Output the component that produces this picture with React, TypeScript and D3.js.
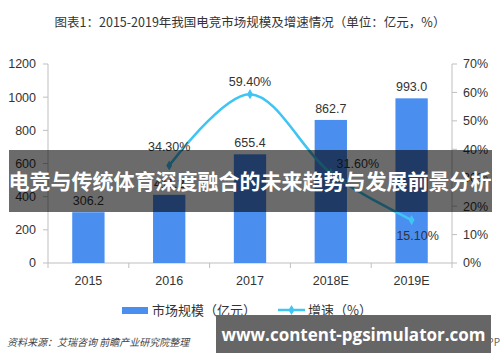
import React from 'react';
import * as d3 from 'd3';

const years = ['2015', '2016', '2017', '2018E', '2019E'];
const marketSize = [306.2, 411.2, 655.4, 862.7, 993.0];
const growth = [null, 34.3, 59.4, 31.6, 15.1];
const leftTicks = [0, 200, 400, 600, 800, 1000, 1200];
const rightTicks = [0, 10, 20, 30, 40, 50, 60, 70];
// label nudges for the growth labels (dx, dy from the point)
const growthLabelShift = [[0, 0], [0, -14], [0, -8], [27, -5], [6, 20]];

const W = 500;
const H = 362;
const left = 48;
const right = 452;
const top = 64;
const bottom = 263;
const numFont = '"Liberation Sans", Arial, sans-serif';
const cjkFont = '"Noto Sans CJK SC", sans-serif';

const App = () => {
  const x = d3.scaleBand().domain(years).range([left, right]).paddingInner(0.6).paddingOuter(0.3);
  const step = x.step();
  const yL = d3.scaleLinear().domain([0, 1200]).range([bottom, top]);
  const yR = d3.scaleLinear().domain([0, 70]).range([bottom, top]);
  const cx = (d: string) => (x(d) as number) + x.bandwidth() / 2;

  const pts = years
    .map((d, i) => ({ d, v: growth[i], i }))
    .filter(p => p.v !== null) as { d: string; v: number; i: number }[];
  const line = d3.line<{ d: string; v: number }>()
    .x(p => cx(p.d))
    .y(p => yR(p.v))
    .curve(d3.curveCatmullRom.alpha(0.5));
  const diamond = d3.symbol().type(d3.symbolDiamond).size(30)();

  const blue = '#4a8ef0';
  const cyan = '#3ec5f3';
  const axisCol = '#bfbfbf';

  return (
    <svg width={W} height={H} style={{ position: 'absolute', left: 0, top: 0, background: '#fff' }}>
      <text x={W / 2} y={27} textAnchor="middle" fontFamily={cjkFont} fontSize={12.5} fill="#333">
        图表1：2015-2019年我国电竞市场规模及增速情况（单位：亿元，%）
      </text>

      {/* axes */}
      <line x1={left} x2={left} y1={top} y2={bottom} stroke={axisCol} />
      <line x1={right} x2={right} y1={top} y2={bottom} stroke={axisCol} />
      <line x1={left} x2={right} y1={bottom} y2={bottom} stroke={axisCol} />
      {leftTicks.map(t => (
        <g key={'l' + t}>
          <line x1={left - 5} x2={left} y1={yL(t)} y2={yL(t)} stroke={axisCol} />
          <text x={36} y={yL(t)} dy="0.35em" textAnchor="end" fontFamily={numFont} fontSize={12.5} fill="#333">{t}</text>
        </g>
      ))}
      {rightTicks.map(t => (
        <g key={'r' + t}>
          <line x1={right} x2={right + 5} y1={yR(t)} y2={yR(t)} stroke={axisCol} />
          <text x={463} y={yR(t)} dy="0.35em" textAnchor="start" fontFamily={numFont} fontSize={12.5} fill="#333">{t}%</text>
        </g>
      ))}
      {d3.range(years.length + 1).map(i => (
        <line key={'t' + i} x1={left + i * step} x2={left + i * step} y1={bottom} y2={bottom + 5} stroke={axisCol} />
      ))}
      {years.map(d => (
        <text key={'x' + d} x={cx(d)} y={285} textAnchor="middle" fontFamily={numFont} fontSize={12.5} fill="#333">{d}</text>
      ))}

      {/* bars */}
      {years.map((d, i) => (
        <g key={'b' + d}>
          <rect x={x(d)} y={yL(marketSize[i])} width={x.bandwidth()} height={bottom - yL(marketSize[i])} fill={blue} />
          <text x={cx(d)} y={yL(marketSize[i]) - 7} textAnchor="middle" fontFamily={numFont} fontSize={12.5} fill="#333">
            {marketSize[i].toFixed(1)}
          </text>
        </g>
      ))}

      {/* growth line */}
      <path d={line(pts) || ''} fill="none" stroke={cyan} strokeWidth={2.5} />
      {pts.map(p => (
        <g key={'p' + p.d}>
          <path d={diamond} transform={`translate(${cx(p.d)},${yR(p.v)})`} fill={cyan} />
          <text
            x={cx(p.d) + growthLabelShift[p.i][0]}
            y={yR(p.v) + growthLabelShift[p.i][1]}
            textAnchor="middle"
            fontFamily={numFont}
            fontSize={12.5}
            fill="#333"
          >
            {p.v.toFixed(2)}%
          </text>
        </g>
      ))}

      {/* legend */}
      <rect x={122} y={307} width={26} height={7} fill={blue} />
      <text x={152} y={310} dy="0.35em" fontFamily={cjkFont} fontSize={13} fill="#333">市场规模（亿元）</text>
      <line x1={278} x2={305} y1={310} y2={310} stroke={cyan} strokeWidth={2.5} />
      <path d={diamond} transform="translate(291.5,310)" fill={cyan} />
      <text x={308} y={310} dy="0.35em" fontFamily={cjkFont} fontSize={13} fill="#333">增速（%）</text>

      <text x={7} y={342} dy="0.35em" fontFamily={cjkFont} fontSize={10} fontStyle="italic" fill="#444">
        资料来源：艾瑞咨询 前瞻产业研究院整理
      </text>
      <text x={500} y={342} dy="0.35em" textAnchor="end" fontFamily={cjkFont} fontSize={10} fill="#666">
        @前瞻经济学人APP
      </text>

      {/* overlay banners */}
      <rect x={9} y={150} width={483} height={62} fill="#000" opacity={0.58} />
      <text x={250} y={182} dy="0.35em" textAnchor="middle" fontFamily={cjkFont} fontWeight="bold" fontSize={21} fill="#fff">
        电竞与传统体育深度融合的未来趋势与发展前景分析
      </text>
      <rect x={216} y={315} width={275} height={38} fill="#666" />
      <text x={353.5} y={335} dy="0.35em" textAnchor="middle" fontFamily='"Open Sans", sans-serif' fontWeight="bold" fontSize={17} fill="#fff">
        www.content-pgsimulator.com
      </text>
    </svg>
  );
};

export default App;
